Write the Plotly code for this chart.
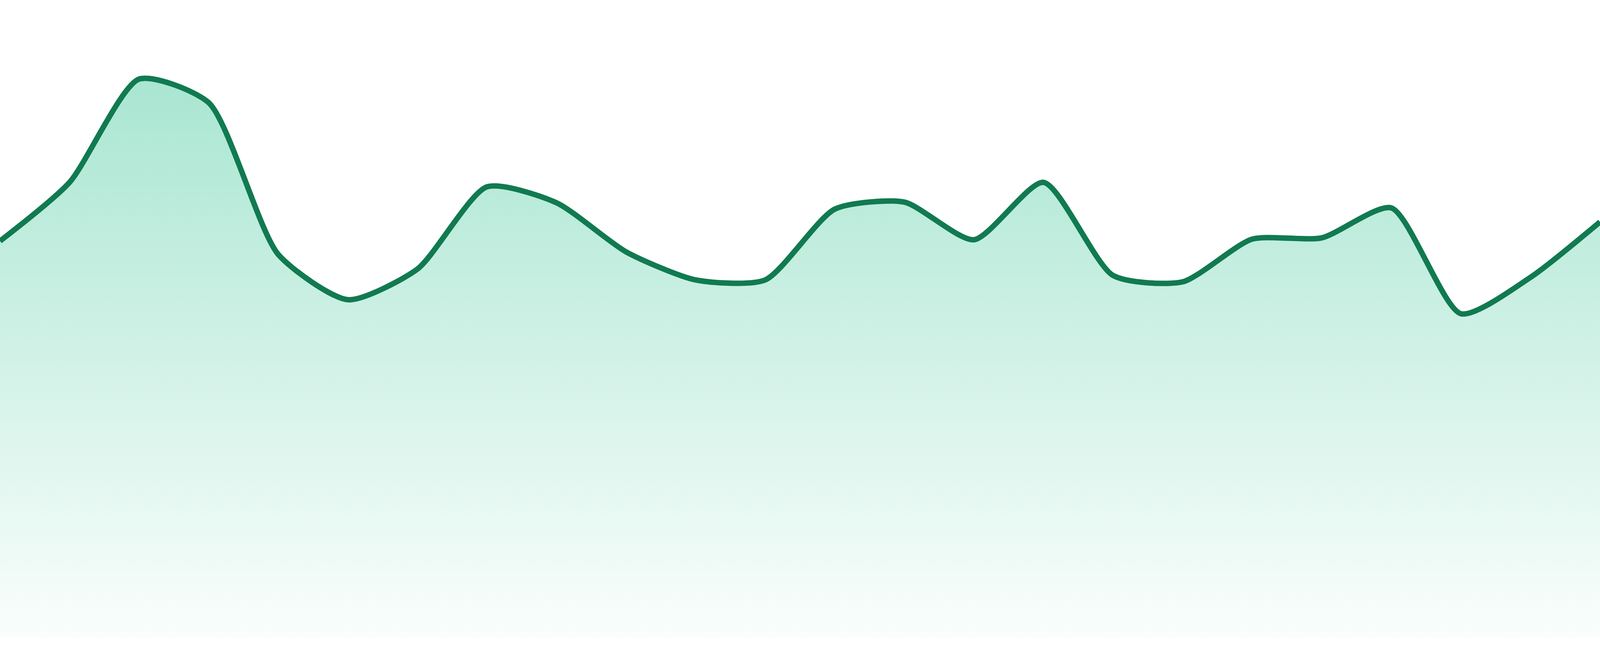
import plotly.graph_objects as go

# 24 evenly spaced samples
steps = list(range(24))
values = [62.2, 71.4, 87.6, 83.9, 60.1, 53.0, 57.8, 70.7, 68.2, 60.5, 56.1, 56.1,
          67.2, 68.3, 62.4, 71.4, 56.8, 55.8, 62.5, 62.7, 67.4, 50.8, 56.5, 65.2]

line_color = "#117a50"

fig = go.Figure()
fig.add_trace(go.Scatter(
    x=steps,
    y=values,
    mode="lines",
    line=dict(color=line_color, width=14, shape="spline", smoothing=0.65),
    fill="tozeroy",
    fillgradient=dict(
        type="vertical",
        start=0,
        stop=max(values),
        colorscale=[[0, "rgba(16,185,129,0.02)"], [1, "rgba(16,185,129,0.36)"]],
    ),
    hoverinfo="skip",
))

fig.update_xaxes(visible=False, range=[0, 23], showgrid=False, zeroline=False)
fig.update_yaxes(visible=False, range=[0, 100], showgrid=False, zeroline=False)
fig.update_layout(
    autosize=True,
    margin={"l": 0, "r": 0, "t": 0, "b": 47},
    paper_bgcolor="white", plot_bgcolor="white",
    showlegend=False,
)

# fill the whole window, no page margin / scrollbars
fix_page = """
document.body.style.margin = '0';
document.body.style.overflow = 'hidden';
var gd = document.getElementById('{plot_id}');
gd.style.width = '100vw';
gd.style.height = '100vh';
Plotly.Plots.resize(gd);
"""

fig.write_html("out.html", default_width="100vw", default_height="100vh",
               config={"responsive": True, "displayModeBar": False},
               post_script=fix_page)
